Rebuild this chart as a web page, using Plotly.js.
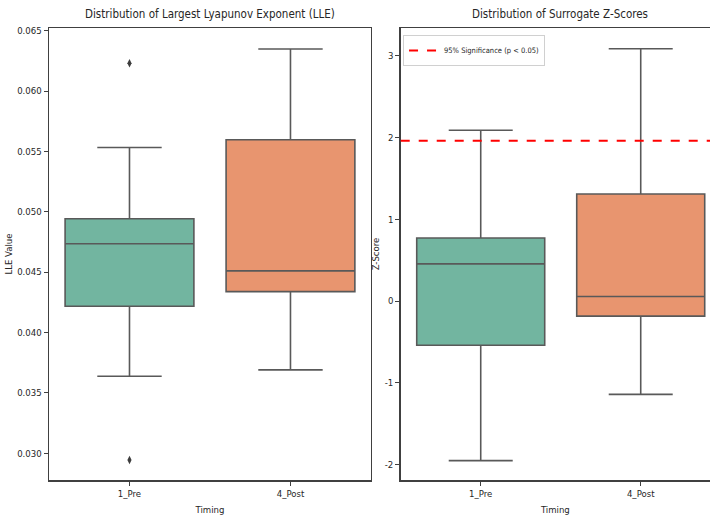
<!DOCTYPE html>
<html>
<head>
<meta charset="utf-8">
<script src="https://cdn.plot.ly/plotly-3.0.1.min.js"></script>
<style>html,body{margin:0;padding:0;background:#fff;}#chart{width:710px;height:522px;}</style>
</head>
<body>
<div id="chart"></div>
<script>
const categories = ['1_Pre', '4_Post'];

const lleQ1 = [0.04218, 0.04339];
const lleMedian = [0.04735, 0.04511];
const lleQ3 = [0.04942, 0.05597];
const lleLower = [0.03638, 0.03691];
const lleUpper = [0.05533, 0.06348];
const lleOutlierCats = ['1_Pre', '1_Pre'];
const lleOutliers = [0.0623, 0.02944];

const zQ1 = [-0.54, -0.183];
const zMedian = [0.456, 0.057];
const zQ3 = [0.773, 1.31];
const zLower = [-1.95, -1.14];
const zUpper = [2.09, 3.086];

const sigThreshold = 1.96;
const sigLabel = '95% Significance (p < 0.05)';

const lleTicks = [0.030, 0.035, 0.040, 0.045, 0.050, 0.055, 0.060, 0.065];
const lleTickText = ['0.030', '0.035', '0.040', '0.045', '0.050', '0.055', '0.060', '0.065'];
const zTicks = [-2, -1, 0, 1, 2, 3];
const zTickText = ['-2', '-1', '0', '1', '2', '3'];

const fills = ['#72b5a0', '#e8956f'];
const FONT = 'DejaVu Sans Condensed, Liberation Sans Narrow, sans-serif';
const lineCol = '#595959';

const traces = [];
categories.forEach((c, i) => {
  traces.push({
    type: 'box', x: [c], q1: [lleQ1[i]], median: [lleMedian[i]], q3: [lleQ3[i]],
    lowerfence: [lleLower[i]], upperfence: [lleUpper[i]],
    fillcolor: fills[i], line: {color: lineCol, width: 1.6},
    width: 0.8, whiskerwidth: 0.5, boxpoints: false,
    xaxis: 'x', yaxis: 'y', showlegend: false, hoverinfo: 'skip'
  });
  traces.push({
    type: 'box', x: [c], q1: [zQ1[i]], median: [zMedian[i]], q3: [zQ3[i]],
    lowerfence: [zLower[i]], upperfence: [zUpper[i]],
    fillcolor: fills[i], line: {color: lineCol, width: 1.6},
    width: 0.8, whiskerwidth: 0.5, boxpoints: false,
    xaxis: 'x2', yaxis: 'y2', showlegend: false, hoverinfo: 'skip'
  });
});
traces.push({
  type: 'scatter', mode: 'markers', x: lleOutlierCats, y: lleOutliers,
  marker: {symbol: 'diamond-tall', size: 6, color: '#3d3d3d'},
  xaxis: 'x', yaxis: 'y', showlegend: false, hoverinfo: 'skip'
});

const axisBase = {
  showline: true, linecolor: '#404040', linewidth: 1.5,
  ticks: 'outside', ticklen: 4, tickwidth: 1, tickcolor: '#404040',
  showgrid: false, zeroline: false,
  tickfont: {family: FONT, size: 9.5, color: '#262626'},
  automargin: false
};
const titleFont = {family: FONT, size: 9.5, color: '#262626'};

const layout = {
  width: 710, height: 522,
  margin: {l: 49, r: 0, t: 28, b: 42},
  paper_bgcolor: '#ffffff', plot_bgcolor: '#ffffff',
  boxmode: 'overlay',
  font: {family: FONT, color: '#262626'},
  xaxis: Object.assign({}, axisBase, {
    domain: [0, 0.4871], type: 'category', categoryarray: categories,
    range: [-0.5, 1.5], mirror: true,
    title: {text: 'Timing', font: titleFont, standoff: 8}
  }),
  yaxis: Object.assign({}, axisBase, {
    domain: [0, 1], range: [0.02779, 0.06522], mirror: true,
    tickvals: lleTicks, ticktext: lleTickText,
    title: {text: 'LLE Value', font: titleFont, standoff: 3}
  }),
  xaxis2: Object.assign({}, axisBase, {
    domain: [0.5321, 1], type: 'category', categoryarray: categories,
    range: [-0.5, 1.433], mirror: true, anchor: 'y2',
    title: {text: 'Timing', font: titleFont, standoff: 8}
  }),
  yaxis2: Object.assign({}, axisBase, {
    domain: [0, 1], range: [-2.187, 3.34], mirror: false, anchor: 'x2',
    tickvals: zTicks, ticktext: zTickText,
    title: {text: 'Z-Score', font: titleFont, standoff: 3}
  }),
  shapes: [{
    type: 'line', xref: 'x2 domain', x0: 0, x1: 1, yref: 'y2', y0: sigThreshold, y1: sigThreshold,
    line: {color: '#ff0000', width: 2, dash: 'dash'},
    showlegend: true, name: sigLabel
  }],
  showlegend: true,
  legend: {
    x: 0.5356, y: 0.9845, xanchor: 'left', yanchor: 'top',
    bgcolor: 'rgba(255,255,255,0.9)', bordercolor: '#d0d0d0', borderwidth: 1,
    font: {family: FONT, size: 7.5, color: '#262626'}, itemwidth: 30,
    tracegroupgap: 0
  },
  annotations: [
    {text: 'Distribution of Largest Lyapunov Exponent (LLE)', xref: 'paper', yref: 'paper',
     x: 0.2436, y: 1.031, xanchor: 'center', yanchor: 'middle', showarrow: false,
     font: {family: FONT, size: 11.5, color: '#262626'}},
    {text: 'Distribution of Surrogate Z-Scores', xref: 'paper', yref: 'paper',
     x: 0.773, y: 1.031, xanchor: 'center', yanchor: 'middle', showarrow: false,
     font: {family: FONT, size: 11.5, color: '#262626'}}
  ]
};

Plotly.newPlot('chart', traces, layout, {displayModeBar: false, staticPlot: true});
</script>
</body>
</html>
